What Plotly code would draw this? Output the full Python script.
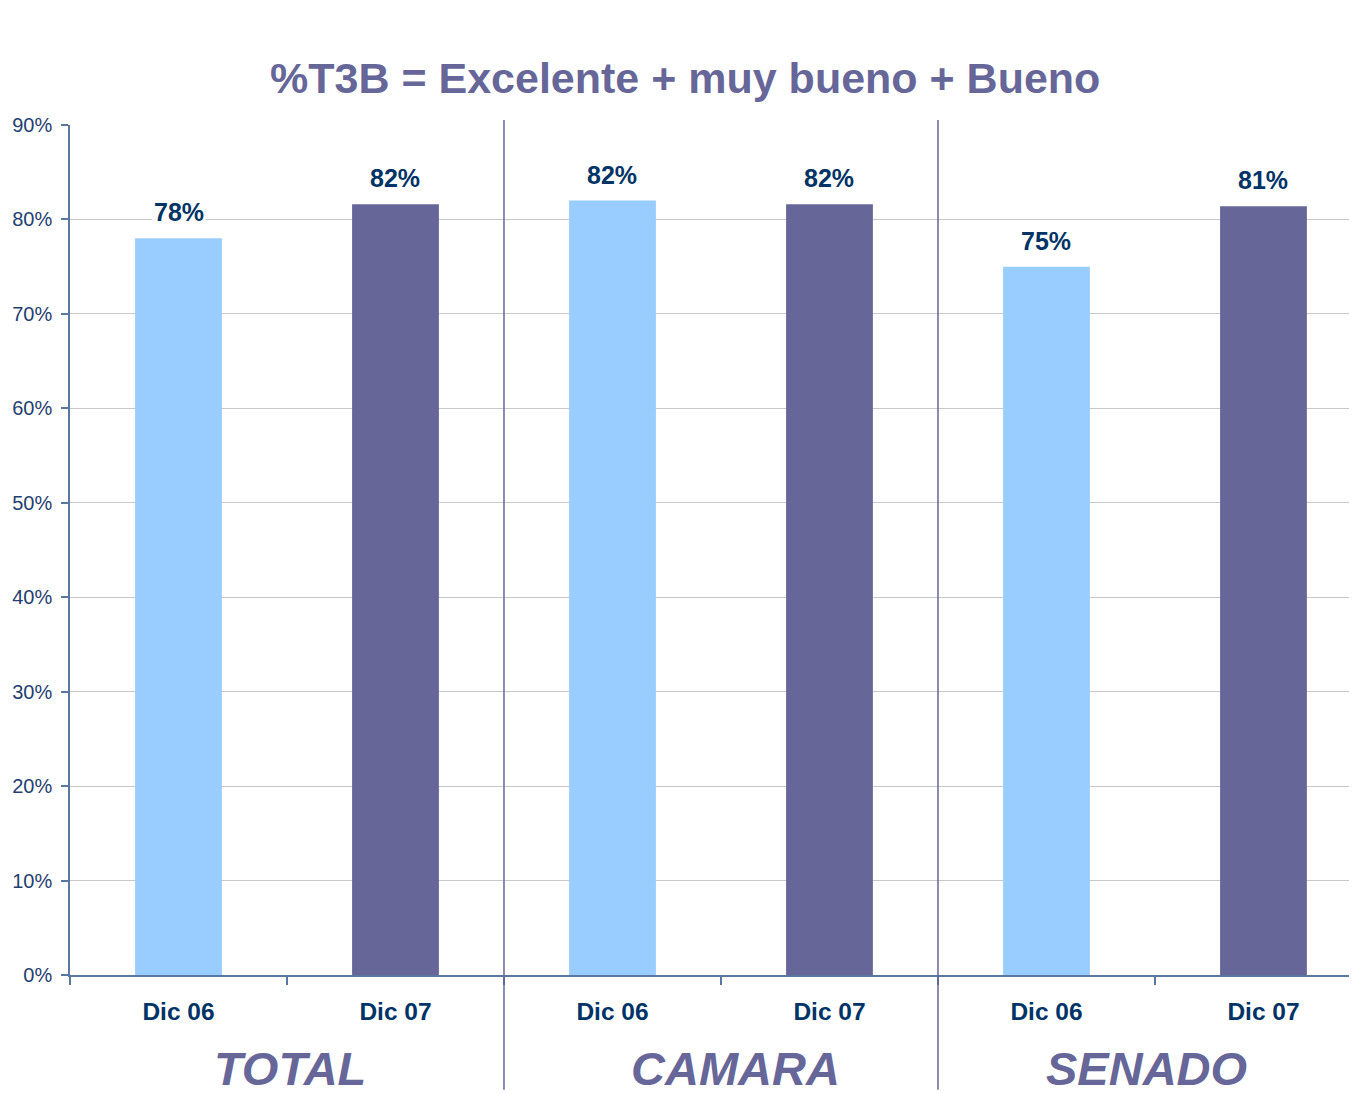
import plotly.graph_objects as go

# ---- data ----
periods = ["Dic 06", "Dic 07"]
groups = ["TOTAL", "CAMARA", "SENADO"]
dic06_values = [78.0, 82.0, 75.0]
dic07_values = [81.6, 81.6, 81.4]
y_ticks = [0, 10, 20, 30, 40, 50, 60, 70, 80, 90]
title_text = "%T3B = Excelente + muy bueno + Bueno"

LIGHT = "#99CCFF"
DARK = "#666699"
AXIS = "#5A77A0"
TXT = "#003366"
FONT = "Arial, Liberation Sans, sans-serif"

x06 = [2 * i for i in range(len(groups))]
x07 = [2 * i + 1 for i in range(len(groups))]
n_cat = 2 * len(groups)

fig = go.Figure()
fig.add_trace(go.Bar(x=x06, y=dic06_values, name=periods[0], marker=dict(color=LIGHT, line=dict(width=0)), width=0.4))
fig.add_trace(go.Bar(x=x07, y=dic07_values, name=periods[1], marker=dict(color=DARK, line=dict(width=0)), width=0.4))

x_range = [-0.5, 5.431]

# value labels
for xs, vals in ((x06, dic06_values), (x07, dic07_values)):
    for x, v in zip(xs, vals):
        fig.add_annotation(x=x, y=v, text=f"<b>{v:.0f}%</b>", showarrow=False,
                           yanchor="bottom", yshift=10, bgcolor="white",
                           font=dict(family=FONT, size=25, color=TXT))

# group labels
group_xshift = [3, 15, -8]
for i, g in enumerate(groups):
    fig.add_annotation(x=2 * i + 0.5, y=-0.109, yref="paper", text=f"<b><i>{g}</i></b>",
                       showarrow=False, yanchor="middle", xshift=group_xshift[i],
                       height=44, valign="middle",
                       font=dict(family=FONT, size=47, color=DARK))

# separators between groups
span = x_range[1] - x_range[0]
for i in range(1, len(groups)):
    xb = 2 * i - 0.5
    xp = (xb - x_range[0]) / span
    fig.add_shape(type="line", xref="paper", yref="paper", x0=xp, x1=xp, y0=1.006, y1=-0.135,
                  line=dict(color=DARK, width=1.5))

fig.update_layout(
    width=1349, height=1086,
    margin=dict(l=62, r=0, t=117, b=119),
    plot_bgcolor="white", paper_bgcolor="white",
    showlegend=False, barmode="overlay",
    title=dict(text=f"<b>{title_text}</b>", x=0.502, xanchor="center", y=0.936, yanchor="middle",
               font=dict(family=FONT, size=43, color=DARK)),
    font=dict(family=FONT),
)
fig.update_xaxes(
    range=x_range, tickvals=list(range(n_cat)), ticktext=[f"<b>{periods[i % 2]}</b>" for i in range(n_cat)],
    ticks="", tickfont=dict(family=FONT, size=24.5, color=TXT), ticklabelstandoff=14,
    showline=True, linecolor=AXIS, linewidth=1.5, showgrid=False, zeroline=False,
    minor=dict(ticks="outside", tick0=0.5, dtick=1, ticklen=8, tickcolor=AXIS, tickwidth=1.5, showgrid=False),
)
fig.update_yaxes(
    range=[0, 90], tickvals=y_ticks, ticktext=[f"{t}%" for t in y_ticks],
    ticks="outside", ticklen=7, tickcolor=AXIS, tickwidth=1.5,
    tickfont=dict(family=FONT, size=20, color="#1F4070"), ticklabelstandoff=5,
    showline=True, linecolor=AXIS, linewidth=1.5,
    showgrid=True, gridcolor="#C8C8CC", gridwidth=1, zeroline=False,
)

fig.write_html("out.html")
